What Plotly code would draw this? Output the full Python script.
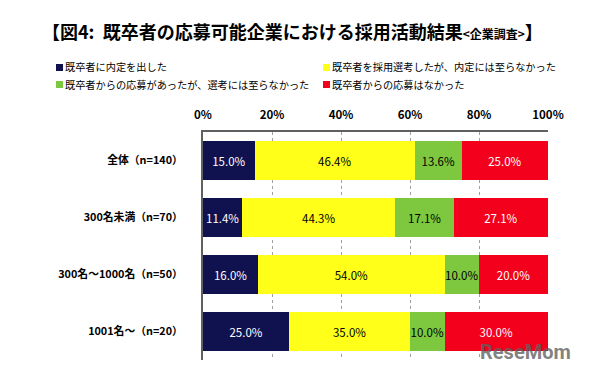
import plotly.graph_objects as go

categories = ["全体（n=140）", "300名未満（n=70）", "300名～1000名（n=50）", "1001名～（n=20）"]
series_names = [
    "既卒者に内定を出した",
    "既卒者を採用選考したが、内定には至らなかった",
    "既卒者からの応募があったが、選考には至らなかった",
    "既卒者からの応募はなかった",
]
offered = [15.0, 11.4, 16.0, 25.0]
selected_no_offer = [46.4, 44.3, 54.0, 35.0]
applied_no_selection = [13.6, 17.1, 10.0, 10.0]
no_applicants = [25.0, 27.1, 20.0, 30.0]
tick_vals = [0, 20, 40, 60, 80, 100]

colors = ["#10124F", "#FFFF1A", "#7DC83E", "#F2001C"]
text_colors = ["white", "black", "black", "white"]
values = [offered, selected_no_offer, applied_no_selection, no_applicants]

FONT = "Noto Sans CJK JP, Meiryo, sans-serif"
W, H = 589, 375
L, R, T, B = 203, 41, 132, 15
PW, PH = W - L - R, H - T - B


def px(x):
    return (x - L) / PW


def py(y):
    return 1 - (y - T) / PH


fig = go.Figure()
for name, vals, c, tc in zip(series_names, values, colors, text_colors):
    fig.add_trace(go.Bar(
        y=categories, x=vals, name=name, orientation="h",
        marker=dict(color=c, line=dict(width=0)),
        width=0.67,
        text=[f"{v:.1f}%" for v in vals],
        textposition="inside", insidetextanchor="middle", textangle=0,
        textfont=dict(color=tc, size=11.5, family=FONT),
        constraintext="none", showlegend=False,
    ))

# manual two-column legend
legend_pos = [(56, 67), (323, 67), (56, 84), (323, 84)]
for (lx, ly), name, c in zip(legend_pos, series_names, colors):
    fig.add_shape(type="rect", xref="paper", yref="paper",
                  x0=px(lx), x1=px(lx + 7), y0=py(ly + 4), y1=py(ly - 3),
                  fillcolor=c, line=dict(width=0))
    fig.add_annotation(text=name, xref="paper", yref="paper",
                       x=px(lx + 7), y=py(ly), xanchor="left", yanchor="middle",
                       showarrow=False, font=dict(size=10.2, family=FONT, color="black"))

fig.update_layout(
    barmode="stack",
    width=W, height=H,
    margin=dict(l=L, r=R, t=T, b=B, autoexpand=False),
    paper_bgcolor="white", plot_bgcolor="white",
    font=dict(family=FONT, color="black"),
    showlegend=False,
    title=dict(
        text="<b>【図4:  既卒者の応募可能企業における採用活動結果<span style='font-size:12px'>&lt;企業調査&gt;</span>】</b>",
        x=42/W, xanchor="left", y=1-33/H, yanchor="middle",
        font=dict(size=18, family=FONT, color="black"),
    ),
    xaxis=dict(
        side="top", range=[0, 100], tickvals=tick_vals,
        ticktext=[f"<b>{v}%</b>" for v in tick_vals],
        showgrid=True, gridcolor="#A0A0A0", griddash="dot", gridwidth=1,
        showline=True, linecolor="#606060", linewidth=2,
        ticks="", ticklabelstandoff=6,
        tickfont=dict(size=11.5, family=FONT, color="black"),
        zeroline=False, fixedrange=True,
    ),
    yaxis=dict(
        autorange="reversed",
        tickvals=categories, ticktext=[f"<b>{c}</b>" for c in categories],
        showline=True, linecolor="#606060", linewidth=2,
        ticks="", ticklabelstandoff=16,
        tickfont=dict(size=10.8, family=FONT, color="black"),
        showgrid=False,
    ),
    bargap=0.33,
)

fig.add_annotation(
    text="<b>ReseMom</b>", xref="paper", yref="paper",
    x=px(525), y=py(352), xanchor="center", yanchor="middle",
    showarrow=False, font=dict(size=20, color="rgba(95,95,95,0.8)", family="Roboto"),
)

fig.write_html("out.html", config={"displayModeBar": False},
               post_script="document.body.style.margin='0';")
